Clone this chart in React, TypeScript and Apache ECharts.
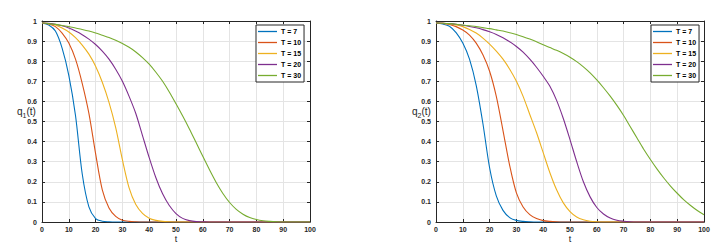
import React, { useEffect, useRef } from "react";
import * as echarts from "echarts";

const T_POINTS = [0, 2.5, 5, 7.5, 10, 12.5, 15, 17.5, 20, 22.5, 25, 27.5, 30, 32.5, 35, 37.5, 40, 42.5, 45, 47.5, 50, 52.5, 55, 57.5, 60, 62.5, 65, 67.5, 70, 72.5, 75, 77.5, 80, 82.5, 85, 87.5, 90, 92.5, 95, 97.5, 100];

const SERIES_NAMES = ["T = 7", "T = 10", "T = 15", "T = 20", "T = 30"];
const COLORS = ["#0072BD", "#D95319", "#EDB120", "#7E2F8E", "#77AC30"];

// q1(t)
const Q1_T7 = [0.99, 0.98, 0.95, 0.865, 0.73, 0.53, 0.24, 0.075, 0.017, 0.004, 0.001, 0, 0, 0, 0, 0, 0, 0, 0, 0, 0, 0, 0, 0, 0, 0, 0, 0, 0, 0, 0, 0, 0, 0, 0, 0, 0, 0, 0, 0, 0];
const Q1_T10 = [0.99, 0.985, 0.972, 0.94, 0.89, 0.81, 0.69, 0.54, 0.34, 0.16, 0.07, 0.028, 0.009, 0.003, 0.001, 0, 0, 0, 0, 0, 0, 0, 0, 0, 0, 0, 0, 0, 0, 0, 0, 0, 0, 0, 0, 0, 0, 0, 0, 0, 0];
const Q1_T15 = [0.99, 0.987, 0.98, 0.965, 0.945, 0.917, 0.88, 0.835, 0.775, 0.695, 0.595, 0.47, 0.31, 0.17, 0.087, 0.043, 0.019, 0.008, 0.003, 0.001, 0, 0, 0, 0, 0, 0, 0, 0, 0, 0, 0, 0, 0, 0, 0, 0, 0, 0, 0, 0, 0];
const Q1_T20 = [0.99, 0.988, 0.984, 0.976, 0.965, 0.95, 0.932, 0.91, 0.883, 0.85, 0.81, 0.76, 0.7, 0.625, 0.54, 0.43, 0.32, 0.22, 0.14, 0.082, 0.042, 0.018, 0.007, 0.002, 0.001, 0, 0, 0, 0, 0, 0, 0, 0, 0, 0, 0, 0, 0, 0, 0, 0];
const Q1_T30 = [0.99, 0.987, 0.983, 0.978, 0.972, 0.965, 0.958, 0.95, 0.94, 0.929, 0.918, 0.904, 0.888, 0.869, 0.846, 0.818, 0.785, 0.745, 0.7, 0.647, 0.588, 0.527, 0.463, 0.395, 0.327, 0.26, 0.197, 0.142, 0.097, 0.063, 0.039, 0.022, 0.012, 0.006, 0.003, 0.001, 0, 0, 0, 0, 0];

// q2(t)
const Q2_T7 = [0.99, 0.985, 0.974, 0.942, 0.89, 0.81, 0.68, 0.49, 0.27, 0.13, 0.058, 0.022, 0.008, 0.003, 0.001, 0, 0, 0, 0, 0, 0, 0, 0, 0, 0, 0, 0, 0, 0, 0, 0, 0, 0, 0, 0, 0, 0, 0, 0, 0, 0];
const Q2_T10 = [0.99, 0.988, 0.983, 0.972, 0.955, 0.93, 0.89, 0.832, 0.75, 0.625, 0.455, 0.28, 0.145, 0.075, 0.037, 0.017, 0.007, 0.003, 0.001, 0, 0, 0, 0, 0, 0, 0, 0, 0, 0, 0, 0, 0, 0, 0, 0, 0, 0, 0, 0, 0, 0];
const Q2_T15 = [0.99, 0.988, 0.985, 0.98, 0.972, 0.958, 0.94, 0.915, 0.885, 0.85, 0.81, 0.76, 0.7, 0.625, 0.535, 0.445, 0.345, 0.245, 0.16, 0.095, 0.052, 0.025, 0.011, 0.004, 0.001, 0, 0, 0, 0, 0, 0, 0, 0, 0, 0, 0, 0, 0, 0, 0, 0];
const Q2_T20 = [0.99, 0.989, 0.987, 0.984, 0.979, 0.973, 0.966, 0.957, 0.946, 0.933, 0.917, 0.897, 0.873, 0.845, 0.81, 0.77, 0.725, 0.675, 0.605, 0.515, 0.41, 0.3, 0.2, 0.125, 0.072, 0.04, 0.02, 0.009, 0.004, 0.001, 0, 0, 0, 0, 0, 0, 0, 0, 0, 0, 0];
const Q2_T30 = [0.99, 0.989, 0.987, 0.984, 0.98, 0.976, 0.972, 0.967, 0.962, 0.956, 0.95, 0.942, 0.933, 0.922, 0.91, 0.897, 0.882, 0.868, 0.854, 0.838, 0.82, 0.798, 0.772, 0.742, 0.707, 0.668, 0.626, 0.58, 0.53, 0.474, 0.418, 0.362, 0.311, 0.263, 0.219, 0.179, 0.143, 0.11, 0.082, 0.057, 0.036];

const Q1_SERIES = [Q1_T7, Q1_T10, Q1_T15, Q1_T20, Q1_T30];
const Q2_SERIES = [Q2_T7, Q2_T10, Q2_T15, Q2_T20, Q2_T30];

const FONT = "Liberation Sans, Arial, sans-serif";
const AXIS_COLOR = "#262626";

function axisPair(gridIndex: number) {
  const common = {
    gridIndex,
    type: "value" as const,
    axisLine: { show: true, onZero: false, lineStyle: { color: AXIS_COLOR, width: 1 } },
    axisTick: { show: true, inside: true, length: 3, lineStyle: { color: AXIS_COLOR } },
  };
  const xAxes = [
    {
      ...common,
      min: 0,
      max: 100,
      interval: 10,
      position: "bottom",
      axisLabel: { fontSize: 7, fontWeight: "bold", color: AXIS_COLOR, margin: 4, fontFamily: FONT },
      splitLine: { show: true, lineStyle: { color: "#e4e4e4", width: 1 } },
    },
    {
      ...common,
      min: 0,
      max: 100,
      interval: 10,
      position: "top",
      axisLabel: { show: false },
      splitLine: { show: false },
    },
  ];
  const yAxes = [
    {
      ...common,
      min: 0,
      max: 1,
      interval: 0.1,
      position: "left",
      axisLabel: { fontSize: 7, fontWeight: "bold", color: AXIS_COLOR, margin: 5, fontFamily: FONT },
      splitLine: { show: true, lineStyle: { color: "#e4e4e4", width: 1 } },
    },
    {
      ...common,
      min: 0,
      max: 1,
      interval: 0.1,
      position: "right",
      axisLabel: { show: false },
      splitLine: { show: false },
    },
  ];
  return { xAxes, yAxes };
}

function legendFor(left: number) {
  return {
    left,
    top: 25,
    orient: "vertical",
    data: SERIES_NAMES.map((name) => ({ name, icon: "rect" })),
    backgroundColor: "#ffffff",
    borderColor: AXIS_COLOR,
    borderWidth: 1,
    borderRadius: 0,
    padding: [3, 3, 3, 2],
    itemWidth: 19,
    itemHeight: 1.3,
    itemGap: 4,
    selectedMode: false,
    textStyle: { fontSize: 7, fontWeight: "bold", color: "#000", fontFamily: FONT, lineHeight: 6, padding: [0, 0, 0, -1] },
  };
}

function yLabel(x: number, sub: string) {
  return {
    type: "group",
    children: [
      { type: "text", x, y: 111, style: { text: "q", fontSize: 10, fill: AXIS_COLOR, fontFamily: FONT, textVerticalAlign: "middle" } },
      { type: "text", x: x + 5.5, y: 115, style: { text: sub, fontSize: 7, fill: AXIS_COLOR, fontFamily: FONT, textVerticalAlign: "middle" } },
      { type: "text", x: x + 9.5, y: 111, style: { text: "(t)", fontSize: 10, fill: AXIS_COLOR, fontFamily: FONT, textVerticalAlign: "middle" } },
    ],
  };
}

export default function App() {
  const ref = useRef<HTMLDivElement>(null);
  useEffect(() => {
    if (!ref.current) return;
    const chart = echarts.init(ref.current, null, { renderer: "svg" });
    const a0 = axisPair(0);
    const a1 = axisPair(1);
    const series: any[] = [];
    [Q1_SERIES, Q2_SERIES].forEach((group, gi) => {
      group.forEach((vals, si) => {
        series.push({
          type: "line",
          name: SERIES_NAMES[si],
          xAxisIndex: gi * 2,
          yAxisIndex: gi * 2,
          data: T_POINTS.map((t, i) => [t, vals[i]]),
          symbol: "none",
          showSymbol: false,
          smooth: 0.3,
          lineStyle: { color: COLORS[si], width: 1.1 },
          itemStyle: { color: COLORS[si] },
          clip: true,
        });
      });
    });
    chart.setOption({
      animation: false,
      backgroundColor: "#ffffff",
      grid: [
        { left: 42, top: 21, width: 268, height: 201, show: false },
        { left: 436, top: 21, width: 268, height: 201, show: false },
      ],
      xAxis: [...a0.xAxes, ...a1.xAxes],
      yAxis: [...a0.yAxes, ...a1.yAxes],
      legend: [legendFor(256), legendFor(651)],
      series,
      graphic: [
        yLabel(17, "1"),
        yLabel(412, "2"),
        { type: "text", x: 176, y: 239, style: { text: "t", fontSize: 9, fill: AXIS_COLOR, fontFamily: FONT, textAlign: "center", textVerticalAlign: "middle" } },
        { type: "text", x: 570, y: 239, style: { text: "t", fontSize: 9, fill: AXIS_COLOR, fontFamily: FONT, textAlign: "center", textVerticalAlign: "middle" } },
      ],
    });
    return () => chart.dispose();
  }, []);
  return <div ref={ref} style={{ position: "absolute", left: 0, top: 0, width: 725, height: 249 }} />;
}
